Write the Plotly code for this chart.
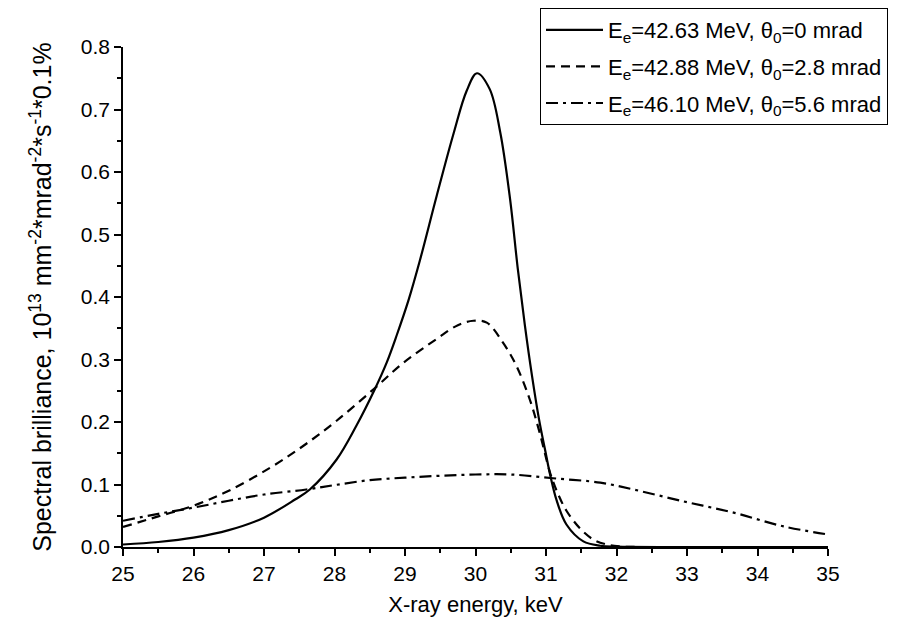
import plotly.graph_objects as go

# ---- data ----
x_solid = [25.0, 25.5, 26.0, 26.5, 27.0, 27.44, 27.65, 28.03, 28.31, 28.57, 28.74, 28.88,
           29.05, 29.21, 29.45, 29.69, 29.875, 30.02, 30.2, 30.35, 30.49, 30.6, 30.7,
           30.8, 30.9, 31.0, 31.06, 31.15, 31.29, 31.53, 31.77, 32.0, 33.0, 34.0, 35.0]
y_solid = [0.004, 0.008, 0.015, 0.027, 0.047, 0.076, 0.092, 0.140, 0.194, 0.252, 0.295, 0.338,
           0.395, 0.458, 0.562, 0.662, 0.730, 0.758, 0.733, 0.664, 0.557, 0.445, 0.355,
           0.275, 0.205, 0.148, 0.115, 0.075, 0.036, 0.009, 0.002, 0.0005, 0.0, 0.0, 0.0]

x_dash = [25.0, 25.5, 26.0, 26.5, 27.09, 27.56, 28.03, 28.57, 28.98, 29.45, 29.75, 29.97,
          30.16, 30.39, 30.58, 30.77, 30.91, 31.06, 31.17, 31.29, 31.48, 31.67, 31.86,
          32.05, 32.3, 33.0, 34.0, 35.0]
y_dash = [0.032, 0.049, 0.066, 0.090, 0.127, 0.162, 0.202, 0.254, 0.295, 0.333, 0.355, 0.362,
          0.359, 0.327, 0.290, 0.236, 0.183, 0.118, 0.085, 0.058, 0.030, 0.012, 0.004,
          0.001, 0.0, 0.0, 0.0, 0.0]

x_dashdot = [25.0, 25.5, 26.0, 26.5, 27.0, 27.6, 28.0, 28.5, 29.0, 29.5, 30.0, 30.5,
             31.1, 31.77, 32.24, 32.95, 33.66, 34.37, 35.0]
y_dashdot = [0.042, 0.053, 0.063, 0.074, 0.084, 0.092, 0.099, 0.107, 0.111, 0.114, 0.116, 0.116,
             0.110, 0.103, 0.092, 0.073, 0.055, 0.033, 0.020]

names = ["E<sub>e</sub>=42.63 MeV, θ<sub>0</sub>=0 mrad",
         "E<sub>e</sub>=42.88 MeV, θ<sub>0</sub>=2.8 mrad",
         "E<sub>e</sub>=46.10 MeV, θ<sub>0</sub>=5.6 mrad"]

x_ticks = list(range(25, 36))
y_ticks = [0.0, 0.1, 0.2, 0.3, 0.4, 0.5, 0.6, 0.7, 0.8]

FONT = "Liberation Sans, Arial, sans-serif"

fig = go.Figure()
fig.add_trace(go.Scatter(x=x_solid, y=y_solid, mode="lines", name=names[0], legendgroup="g1",
                         line=dict(color="black", width=2.2, shape="spline", smoothing=1.0)))
fig.add_trace(go.Scatter(x=x_dash, y=y_dash, mode="lines", name=names[1], legendgroup="g2",
                         line=dict(color="black", width=2.2, dash="9px,6px", shape="spline", smoothing=1.0)))
fig.add_trace(go.Scatter(x=x_dashdot, y=y_dashdot, mode="lines", name=names[2], legendgroup="g3",
                         line=dict(color="black", width=2.2, dash="12px,5px,3px,5px", shape="spline", smoothing=1.0)))

fig.update_layout(
    width=889, height=612,
    margin=dict(l=115, r=69, t=39, b=73, autoexpand=False),
    paper_bgcolor="white", plot_bgcolor="white",
    font=dict(family=FONT, color="black", size=21),
    showlegend=True,
    legend=dict(x=0.5915, y=1.078, xanchor="left", yanchor="top",
                bgcolor="white", bordercolor="black", borderwidth=1,
                font=dict(family=FONT, size=22, color="black"),
                itemwidth=57, tracegroupgap=5, groupclick="toggleitem"),
    xaxis=dict(range=[25, 35], tickvals=x_ticks, ticktext=[str(v) for v in x_ticks],
               automargin=False,
               showgrid=False, zeroline=False, showline=True, linecolor="black", linewidth=1.5,
               ticks="outside", ticklen=7, tickwidth=1.5, tickcolor="black",
               minor=dict(dtick=0.5, ticks="outside", ticklen=4, tickwidth=1.5, tickcolor="black"),
               tickfont=dict(size=21),
               title=dict(text="X-ray energy, keV", font=dict(size=22), standoff=13)),
    yaxis=dict(range=[0, 0.8], tickvals=y_ticks, ticktext=[f"{v:.1f}" for v in y_ticks],
               automargin=False,
               showgrid=False, zeroline=False, showline=True, linecolor="black", linewidth=1.5,
               ticks="outside", ticklen=7, tickwidth=1.5, tickcolor="black",
               minor=dict(dtick=0.05, ticks="outside", ticklen=4, tickwidth=1.5, tickcolor="black"),
               tickfont=dict(size=21),
               title=dict(text="Spectral brilliance, 10<sup>13</sup> mm<sup>-2</sup>*mrad<sup>-2</sup>*s<sup>-1</sup>*0.1%",
                          font=dict(size=25), standoff=22)),
)

fig.write_html("out.html")
